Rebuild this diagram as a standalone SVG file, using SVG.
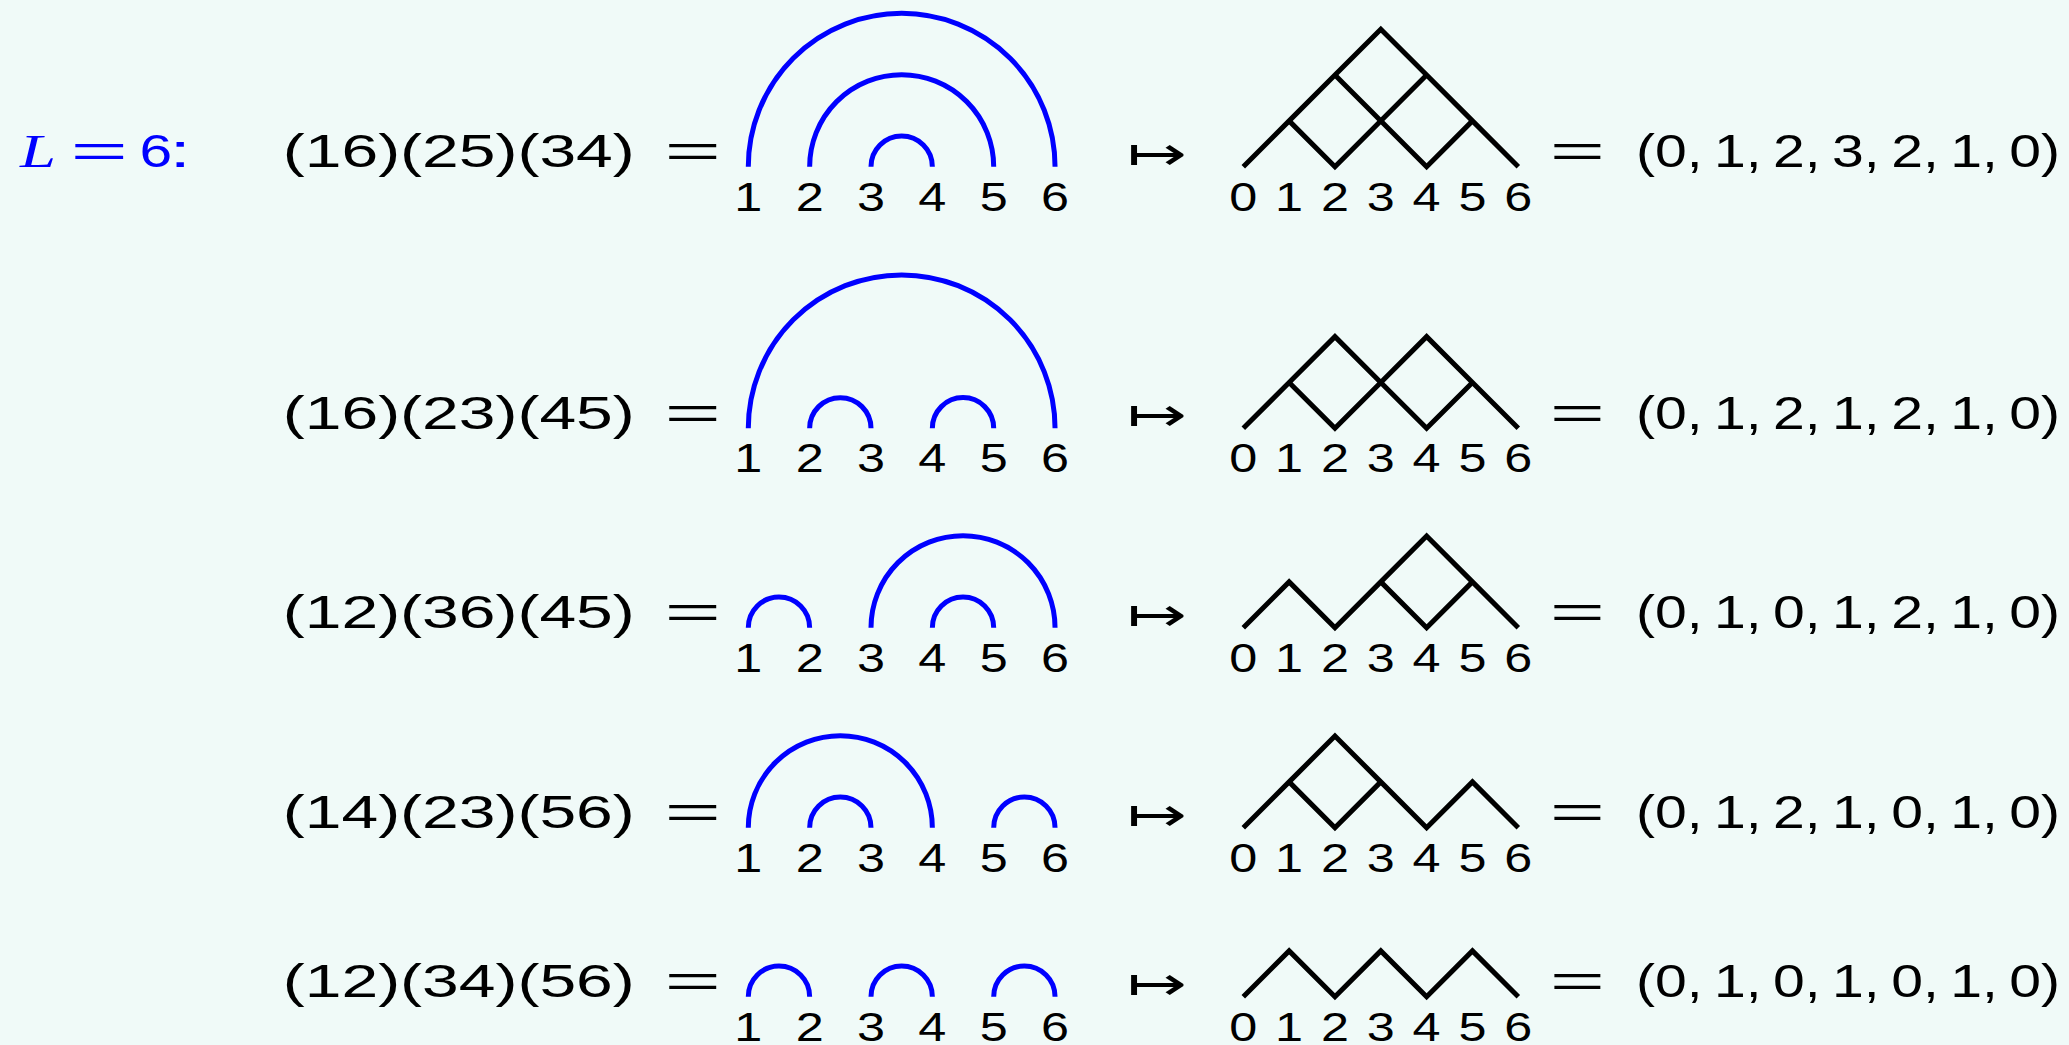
<svg xmlns="http://www.w3.org/2000/svg" width="2069" height="1045" viewBox="0 0 2069 1045">
<style>
.t{font-family:"Liberation Sans",Arial,sans-serif;font-size:46px;fill:#000}
.lbl{font-family:"Liberation Sans",Arial,sans-serif;font-size:40px;fill:#000}
.blue{fill:#0000ff}
.it{font-family:"Liberation Serif","Times New Roman",serif;font-style:italic}
.map{font-family:"DejaVu Sans",sans-serif;font-size:48px;font-weight:200;fill:#000}
.arc{fill:none;stroke:#0000ff;stroke-width:5;stroke-linecap:butt}
.dyck{fill:none;stroke:#000;stroke-width:5;stroke-linejoin:miter;stroke-miterlimit:10;stroke-linecap:butt}
</style>
<defs>
<g id="arcLabels">
<text class="lbl" x="734.3" y="44" textLength="28" lengthAdjust="spacingAndGlyphs">1</text>
<text class="lbl" x="795.65" y="44" textLength="28" lengthAdjust="spacingAndGlyphs">2</text>
<text class="lbl" x="857" y="44" textLength="28" lengthAdjust="spacingAndGlyphs">3</text>
<text class="lbl" x="918.35" y="44" textLength="28" lengthAdjust="spacingAndGlyphs">4</text>
<text class="lbl" x="979.7" y="44" textLength="28" lengthAdjust="spacingAndGlyphs">5</text>
<text class="lbl" x="1041.05" y="44" textLength="28" lengthAdjust="spacingAndGlyphs">6</text>
</g>
<g id="dyckLabels">
<text class="lbl" x="1229.3" y="44" textLength="28" lengthAdjust="spacingAndGlyphs">0</text>
<text class="lbl" x="1275.13" y="44" textLength="28" lengthAdjust="spacingAndGlyphs">1</text>
<text class="lbl" x="1320.96" y="44" textLength="28" lengthAdjust="spacingAndGlyphs">2</text>
<text class="lbl" x="1366.79" y="44" textLength="28" lengthAdjust="spacingAndGlyphs">3</text>
<text class="lbl" x="1412.62" y="44" textLength="28" lengthAdjust="spacingAndGlyphs">4</text>
<text class="lbl" x="1458.45" y="44" textLength="28" lengthAdjust="spacingAndGlyphs">5</text>
<text class="lbl" x="1504.28" y="44" textLength="28" lengthAdjust="spacingAndGlyphs">6</text>
</g>
<g id="eqMap">
<text class="t" x="664.6" y="0.5" textLength="56.5" lengthAdjust="spacingAndGlyphs">=</text>
<text class="map" x="1127" y="3" textLength="59.6" lengthAdjust="spacingAndGlyphs">↦</text>
<text class="t" x="1549.7" y="0.5" textLength="55.3" lengthAdjust="spacingAndGlyphs">=</text>
</g>
</defs>
<rect width="2069" height="1045" fill="#f0faf8"/>

<g id="title" transform="translate(0,166.7)">
<text class="t blue it" x="20" y="0.5" textLength="36" lengthAdjust="spacingAndGlyphs">L</text>
<text class="t blue" x="70.4" y="0.5" textLength="57.5" lengthAdjust="spacingAndGlyphs">=</text>
<text class="t blue" x="139.6" y="0.5" textLength="32.7" lengthAdjust="spacingAndGlyphs">6</text>
<text class="t blue" x="169.4" y="0.5" textLength="21.4" lengthAdjust="spacingAndGlyphs">:</text>
</g>

<g id="row1" transform="translate(0,166.7)">
<text class="t" x="282.8" y="0.5" textLength="352" lengthAdjust="spacingAndGlyphs">(16)(25)(34)</text>
<use href="#eqMap"/>
<g id="arcs1">
<path class="arc" d="M748.3,0 A153.375,153.375 0 0 1 1055.05,0"/>
<path class="arc" d="M809.65,0 A92.025,92.025 0 0 1 993.7,0"/>
<path class="arc" d="M871,0 A30.675,30.675 0 0 1 932.35,0"/>
</g>
<use href="#arcLabels"/>
<g id="dyck1">
<polyline class="dyck" points="1243.3,0 1289.13,-45.83 1334.96,-91.66 1380.79,-137.49 1426.62,-91.66 1472.45,-45.83 1518.28,0"/>
<polyline class="dyck" points="1289.13,-45.83 1334.96,0 1426.62,-91.66"/>
<polyline class="dyck" points="1334.96,-91.66 1426.62,0 1472.45,-45.83"/>
</g>
<use href="#dyckLabels"/>
<text class="t" x="1636" y="0.5" textLength="424" lengthAdjust="spacingAndGlyphs">(0,&#8201;1,&#8201;2,&#8201;3,&#8201;2,&#8201;1,&#8201;0)</text>
</g>

<g id="row2" transform="translate(0,428.3)">
<text class="t" x="282.8" y="0.5" textLength="352" lengthAdjust="spacingAndGlyphs">(16)(23)(45)</text>
<use href="#eqMap"/>
<g id="arcs2">
<path class="arc" d="M748.3,0 A153.375,153.375 0 0 1 1055.05,0"/>
<path class="arc" d="M809.65,0 A30.675,30.675 0 0 1 871,0"/>
<path class="arc" d="M932.35,0 A30.675,30.675 0 0 1 993.7,0"/>
</g>
<use href="#arcLabels"/>
<g id="dyck2">
<polyline class="dyck" points="1243.3,0 1289.13,-45.83 1334.96,-91.66 1380.79,-45.83 1426.62,-91.66 1472.45,-45.83 1518.28,0"/>
<polyline class="dyck" points="1289.13,-45.83 1334.96,0 1380.79,-45.83 1426.62,0 1472.45,-45.83"/>
</g>
<use href="#dyckLabels"/>
<text class="t" x="1636" y="0.5" textLength="424" lengthAdjust="spacingAndGlyphs">(0,&#8201;1,&#8201;2,&#8201;1,&#8201;2,&#8201;1,&#8201;0)</text>
</g>

<g id="row3" transform="translate(0,627.7)">
<text class="t" x="282.8" y="0.5" textLength="352" lengthAdjust="spacingAndGlyphs">(12)(36)(45)</text>
<use href="#eqMap"/>
<g id="arcs3">
<path class="arc" d="M748.3,0 A30.675,30.675 0 0 1 809.65,0"/>
<path class="arc" d="M871,0 A92.025,92.025 0 0 1 1055.05,0"/>
<path class="arc" d="M932.35,0 A30.675,30.675 0 0 1 993.7,0"/>
</g>
<use href="#arcLabels"/>
<g id="dyck3">
<polyline class="dyck" points="1243.3,0 1289.13,-45.83 1334.96,0 1380.79,-45.83 1426.62,-91.66 1472.45,-45.83 1518.28,0"/>
<polyline class="dyck" points="1380.79,-45.83 1426.62,0 1472.45,-45.83"/>
</g>
<use href="#dyckLabels"/>
<text class="t" x="1636" y="0.5" textLength="424" lengthAdjust="spacingAndGlyphs">(0,&#8201;1,&#8201;0,&#8201;1,&#8201;2,&#8201;1,&#8201;0)</text>
</g>

<g id="row4" transform="translate(0,827.7)">
<text class="t" x="282.8" y="0.5" textLength="352" lengthAdjust="spacingAndGlyphs">(14)(23)(56)</text>
<use href="#eqMap"/>
<g id="arcs4">
<path class="arc" d="M748.3,0 A92.025,92.025 0 0 1 932.35,0"/>
<path class="arc" d="M809.65,0 A30.675,30.675 0 0 1 871,0"/>
<path class="arc" d="M993.7,0 A30.675,30.675 0 0 1 1055.05,0"/>
</g>
<use href="#arcLabels"/>
<g id="dyck4">
<polyline class="dyck" points="1243.3,0 1289.13,-45.83 1334.96,-91.66 1380.79,-45.83 1426.62,0 1472.45,-45.83 1518.28,0"/>
<polyline class="dyck" points="1289.13,-45.83 1334.96,0 1380.79,-45.83"/>
</g>
<use href="#dyckLabels"/>
<text class="t" x="1636" y="0.5" textLength="424" lengthAdjust="spacingAndGlyphs">(0,&#8201;1,&#8201;2,&#8201;1,&#8201;0,&#8201;1,&#8201;0)</text>
</g>

<g id="row5" transform="translate(0,996.7)">
<text class="t" x="282.8" y="0.5" textLength="352" lengthAdjust="spacingAndGlyphs">(12)(34)(56)</text>
<use href="#eqMap"/>
<g id="arcs5">
<path class="arc" d="M748.3,0 A30.675,30.675 0 0 1 809.65,0"/>
<path class="arc" d="M871,0 A30.675,30.675 0 0 1 932.35,0"/>
<path class="arc" d="M993.7,0 A30.675,30.675 0 0 1 1055.05,0"/>
</g>
<use href="#arcLabels"/>
<g id="dyck5">
<polyline class="dyck" points="1243.3,0 1289.13,-45.83 1334.96,0 1380.79,-45.83 1426.62,0 1472.45,-45.83 1518.28,0"/>
</g>
<use href="#dyckLabels"/>
<text class="t" x="1636" y="0.5" textLength="424" lengthAdjust="spacingAndGlyphs">(0,&#8201;1,&#8201;0,&#8201;1,&#8201;0,&#8201;1,&#8201;0)</text>
</g>
</svg>
